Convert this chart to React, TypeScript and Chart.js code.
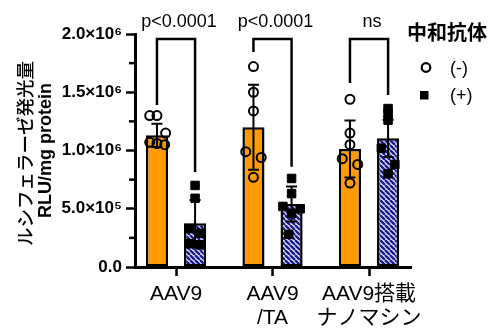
import React, { useEffect, useRef } from 'react';
import { Chart, registerables } from 'chart.js';

Chart.register(...registerables);

// ---------- data ----------
const CATEGORIES: string[][] = [['AAV9'], ['AAV9', '/TA'], ['AAV9搭載', 'ナノマシン']];
const SERIES_LABELS = ['(-)', '(+)'];
const LEGEND_TITLE = '中和抗体';
const Y_TITLE_JP = 'ルシフェラーゼ発光量';
const Y_TITLE_EN = 'RLU/mg protein';

const MEAN_NEG = [1130000, 1200000, 1013000];
const MEAN_POS = [375000, 540000, 1105000];
const SD_NEG = [100000, 365000, 245000];
const SD_POS = [200000, 150000, 160000];

const POINTS_NEG = [
  [1300000, 1300000, 1150000, 1070000, 1060000, 1050000],
  [1720000, 1500000, 1340000, 990000, 940000, 770000],
  [1440000, 1150000, 1050000, 930000, 880000, 720000],
];
const POINTS_POS = [
  [700000, 590000, 330000, 290000, 200000, 190000],
  [760000, 630000, 520000, 500000, 460000, 280000],
  [1360000, 1320000, 1260000, 1020000, 880000, 800000],
];

const P_LABELS = ['p<0.0001', 'p<0.0001', 'ns'];
const BRACKET_TOP = 1957000;
const BRACKET_LEFT_END = [1390000, 1845000, 1580000];
const BRACKET_RIGHT_END = [815000, 860000, 1476000];

const Y_MAX = 2000000;
const Y_STEP = 250000;
const Y_LABEL_STEP = 500000;
const SUPERSCRIPTS: Record<number, string> = { 5: '⁵', 6: '⁶' };

// ---------- style ----------
const CAT_PCT = 0.79;
const BAR_PCT = 0.58;
const JITTER_NEG = [
  [-0.075, 0, 0.09, -0.075, 0, 0.08],
  [0, 0, 0, -0.08, 0.08, 0],
  [0, 0, 0, -0.08, 0.08, 0],
];
const JITTER_POS = [
  [0, 0, -0.06, 0.06, -0.05, 0.05],
  [0, 0, -0.09, 0.09, 0, -0.03],
  [0, 0, 0, -0.07, 0.07, 0],
];
const ORANGE = '#FF9A05';
const HATCH_DARK = '#1c1c8c';
const HATCH_LIGHT = '#e6e6ff';
const LATIN = "'Liberation Sans', Arial, sans-serif";
const CJK = "'Noto Sans CJK JP', sans-serif";

function makeHatch(): CanvasPattern | string {
  const s = 5;
  const c = document.createElement('canvas');
  c.width = s;
  c.height = s;
  const g = c.getContext('2d');
  if (!g) return HATCH_DARK;
  g.fillStyle = HATCH_LIGHT;
  g.fillRect(0, 0, s, s);
  g.strokeStyle = HATCH_DARK;
  g.lineWidth = 2.4;
  g.beginPath();
  for (let k = -1; k <= 1; k++) {
    g.moveTo(k * s, 0);
    g.lineTo(k * s + s, s);
  }
  g.stroke();
  const p = g.createPattern(c, 'repeat');
  return p || HATCH_DARK;
}

function fmtTick(v: number): string {
  if (v % Y_LABEL_STEP !== 0) return '';
  if (v === 0) return '0.0';
  const e = Math.floor(Math.log10(v));
  const m = v / Math.pow(10, e);
  return m.toFixed(1) + '×10' + (SUPERSCRIPTS[e] || '');
}

const annotationPlugin = {
  id: 'annotations',
  afterDatasetDraw(chart: any, args: any) {
    if (args.index > 1) return;
    const ctx = chart.ctx;
    const y = chart.scales.y;
    const means = args.index === 0 ? MEAN_NEG : MEAN_POS;
    const sds = args.index === 0 ? SD_NEG : SD_POS;
    ctx.save();
    ctx.strokeStyle = '#000';
    ctx.lineWidth = 2;
    args.meta.data.forEach((el: any, i: number) => {
      const x = el.x;
      const top = y.getPixelForValue(means[i] + sds[i]);
      const bot = y.getPixelForValue(means[i] - sds[i]);
      ctx.beginPath();
      ctx.moveTo(x, top);
      ctx.lineTo(x, bot);
      ctx.moveTo(x - 5.5, top);
      ctx.lineTo(x + 5.5, top);
      ctx.moveTo(x - 5.5, bot);
      ctx.lineTo(x + 5.5, bot);
      ctx.stroke();
    });
    ctx.restore();
  },
  afterDraw(chart: any) {
    const ctx = chart.ctx;
    const y = chart.scales.y;
    const area = chart.chartArea;
    const m0 = chart.getDatasetMeta(0);
    const m1 = chart.getDatasetMeta(1);
    ctx.save();
    // minor y ticks
    ctx.strokeStyle = '#000';
    ctx.lineWidth = 2.5;
    y.ticks.forEach((t: any) => {
      if (t.value % Y_LABEL_STEP === 0) return;
      const py = y.getPixelForValue(t.value);
      ctx.beginPath();
      ctx.moveTo(area.left - 6, py);
      ctx.lineTo(area.left, py);
      ctx.stroke();
    });
    // brackets
    ctx.lineWidth = 2.5;
    ctx.lineJoin = 'miter';
    const by = y.getPixelForValue(BRACKET_TOP);
    P_LABELS.forEach((label, i) => {
      const xl = m0.data[i].x;
      const xr = m1.data[i].x;
      ctx.beginPath();
      ctx.moveTo(xl, y.getPixelForValue(BRACKET_LEFT_END[i]));
      ctx.lineTo(xl, by);
      ctx.lineTo(xr, by);
      ctx.lineTo(xr, y.getPixelForValue(BRACKET_RIGHT_END[i]));
      ctx.stroke();
      ctx.fillStyle = '#000';
      ctx.font = `18px ${LATIN}`;
      ctx.textAlign = 'center';
      ctx.textBaseline = 'alphabetic';
      ctx.fillText(label, (xl + xr) / 2 + 3, by - 12);
    });
    // y title
    ctx.fillStyle = '#000';
    ctx.textAlign = 'center';
    ctx.textBaseline = 'middle';
    ctx.save();
    ctx.translate(25, (area.top + area.bottom) / 2 + 3);
    ctx.rotate(-Math.PI / 2);
    ctx.font = `500 18.5px ${CJK}`;
    ctx.fillText(Y_TITLE_JP, 0, 0);
    ctx.restore();
    ctx.save();
    ctx.translate(46, (area.top + area.bottom) / 2);
    ctx.rotate(-Math.PI / 2);
    ctx.font = `bold 18px ${LATIN}`;
    ctx.fillText(Y_TITLE_EN, 0, 0);
    ctx.restore();
    // legend
    ctx.textAlign = 'left';
    ctx.font = `bold 20px ${CJK}`;
    ctx.fillText(LEGEND_TITLE, 407, 32);
    ctx.font = `18px ${LATIN}`;
    ctx.fillText(SERIES_LABELS[0], 450, 69);
    ctx.fillText(SERIES_LABELS[1], 450, 96);
    ctx.lineWidth = 2.2;
    ctx.beginPath();
    ctx.arc(426, 67.5, 4.3, 0, Math.PI * 2);
    ctx.stroke();
    ctx.fillRect(420, 91, 8.5, 8.5);
    ctx.restore();
  },
};

export default function App() {
  const ref = useRef<HTMLCanvasElement | null>(null);
  useEffect(() => {
    if (!ref.current) return;
    const hatch = makeHatch();
    const shift = CAT_PCT / 4;
    const negPts: { x: number; y: number }[] = [];
    const posPts: { x: number; y: number }[] = [];
    POINTS_NEG.forEach((arr, i) => arr.forEach((v, j) => negPts.push({ x: i - shift + JITTER_NEG[i][j], y: v })));
    POINTS_POS.forEach((arr, i) => arr.forEach((v, j) => posPts.push({ x: i + shift + JITTER_POS[i][j], y: v })));

    const chart = new Chart(ref.current, {
      type: 'bar',
      data: {
        datasets: [
          {
            type: 'bar',
            label: SERIES_LABELS[0],
            data: MEAN_NEG.map((v, i) => ({ x: i, y: v })),
            backgroundColor: ORANGE,
            borderColor: '#000',
            borderWidth: 2.5,
            borderSkipped: false,
            categoryPercentage: CAT_PCT,
            barPercentage: BAR_PCT,
            order: 2,
          } as any,
          {
            type: 'bar',
            label: SERIES_LABELS[1],
            data: MEAN_POS.map((v, i) => ({ x: i, y: v })),
            backgroundColor: hatch,
            borderColor: '#000',
            borderWidth: 2.5,
            borderSkipped: false,
            categoryPercentage: CAT_PCT,
            barPercentage: BAR_PCT,
            order: 2,
          } as any,
          {
            type: 'scatter',
            label: SERIES_LABELS[0],
            data: negPts,
            pointStyle: 'circle',
            pointRadius: 4.5,
            pointBorderWidth: 2,
            pointBorderColor: '#000',
            pointBackgroundColor: 'rgba(0,0,0,0)',
            order: 1,
          } as any,
          {
            type: 'scatter',
            label: SERIES_LABELS[1],
            data: posPts,
            pointStyle: 'rect',
            pointRadius: 6,
            pointBorderWidth: 1,
            pointBorderColor: '#000',
            pointBackgroundColor: '#000',
            order: 1,
          } as any,
        ],
      },
      options: {
        responsive: false,
        animation: false,
        events: [],
        layout: { padding: { top: 34, right: 89, left: 0, bottom: 0 } },
        plugins: { legend: { display: false }, tooltip: { enabled: false } },
        scales: {
          x: {
            type: 'linear',
            min: -0.425,
            max: 2.435,
            offset: false,
            afterBuildTicks: (s: any) => {
              s.ticks = CATEGORIES.map((_, i) => ({ value: i }));
            },
            afterFit: (s: any) => {
              s.height = 63;
            },
            ticks: {
              autoSkip: false,
              maxRotation: 0,
              padding: 6,
              color: '#000',
              font: { family: `'Liberation Sans', Arial, ${CJK}`, size: 21, lineHeight: 1.15 },
              callback: (v: any) => CATEGORIES[Math.round(Number(v))] || '',
            },
            grid: {
              offset: false,
              drawOnChartArea: false,
              drawTicks: true,
              tickLength: 9,
              tickWidth: 2.5,
              tickColor: '#000',
            },
            border: { display: true, color: '#000', width: 3 },
          } as any,
          y: {
            min: 0,
            max: Y_MAX,
            afterFit: (s: any) => {
              s.width = 135;
            },
            ticks: {
              stepSize: Y_STEP,
              autoSkip: false,
              padding: 4,
              color: '#000',
              font: { family: LATIN, size: 17, weight: 'bold' },
              callback: (v: any) => fmtTick(Number(v)),
            },
            grid: {
              drawOnChartArea: false,
              drawTicks: true,
              tickLength: 9,
              tickWidth: 2.5,
              tickColor: (c: any) => (c.tick && c.tick.value % Y_LABEL_STEP === 0 ? '#000' : 'rgba(0,0,0,0)'),
            },
            border: { display: true, color: '#000', width: 3 },
          } as any,
        },
      } as any,
      plugins: [annotationPlugin],
    });
    return () => chart.destroy();
  }, []);

  return (
    <div style={{ position: 'absolute', left: 0, top: 0, width: 500, height: 330, background: '#fff' }}>
      <canvas ref={ref} width={500} height={330} />
    </div>
  );
}
